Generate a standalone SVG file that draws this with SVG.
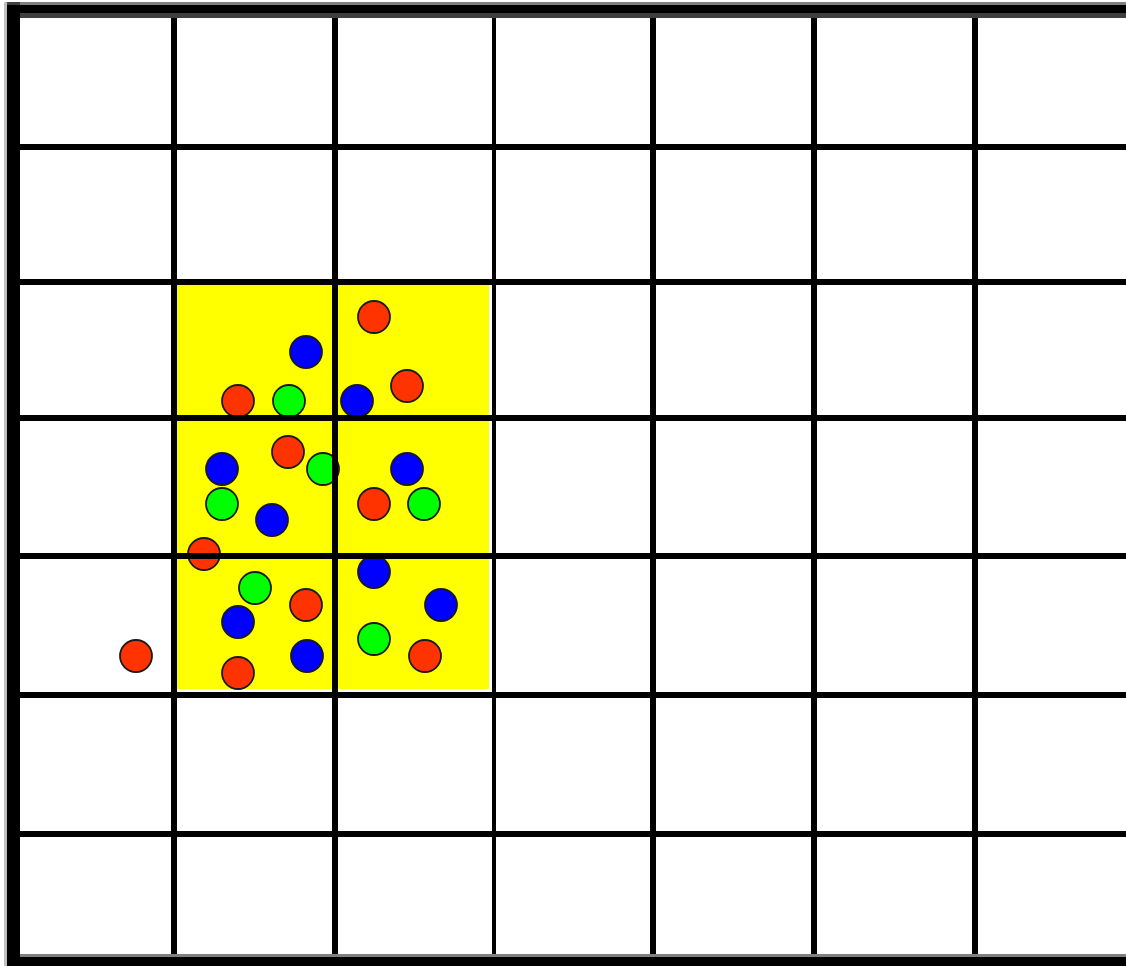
<svg xmlns="http://www.w3.org/2000/svg" width="1126" height="966" viewBox="0 0 1126 966">
  <defs>
    <style>
      .grid line { stroke: #000; stroke-width: 6; }
      .ball { stroke: #1a1a1a; stroke-width: 1.8; }
      .r { fill: #ff3300; }
      .b { fill: #0000ff; }
      .g { fill: #00ff00; }
    </style>
  </defs>
  <rect x="0" y="0" width="1126" height="966" fill="#ffffff"/>
  <g id="highlight">
    <rect x="174" y="282" width="315" height="407" fill="#ffff00"/>
  </g>
  <g id="particles">
    <circle class="ball r" cx="374" cy="317" r="16"/>
    <circle class="ball b" cx="306" cy="352" r="16"/>
    <circle class="ball r" cx="407" cy="386" r="16"/>
    <circle class="ball r" cx="238" cy="401" r="16"/>
    <circle class="ball g" cx="289" cy="401" r="16"/>
    <circle class="ball b" cx="357" cy="401" r="16"/>
    <circle class="ball r" cx="288" cy="452" r="16"/>
    <circle class="ball g" cx="323" cy="469" r="16"/>
    <circle class="ball b" cx="222" cy="469" r="16"/>
    <circle class="ball g" cx="222" cy="504" r="16"/>
    <circle class="ball b" cx="272" cy="520" r="16"/>
    <circle class="ball b" cx="407" cy="469" r="16"/>
    <circle class="ball r" cx="374" cy="504" r="16"/>
    <circle class="ball g" cx="424" cy="504" r="16"/>
    <circle class="ball r" cx="204" cy="554" r="16"/>
    <circle class="ball g" cx="255" cy="588" r="16"/>
    <circle class="ball r" cx="306" cy="605" r="16"/>
    <circle class="ball b" cx="238" cy="622" r="16"/>
    <circle class="ball r" cx="238" cy="673" r="16"/>
    <circle class="ball b" cx="307" cy="656" r="16"/>
    <circle class="ball r" cx="136" cy="656" r="16"/>
    <circle class="ball b" cx="374" cy="572" r="16"/>
    <circle class="ball b" cx="441" cy="605" r="16"/>
    <circle class="ball g" cx="374" cy="639" r="16"/>
    <circle class="ball r" cx="425" cy="656" r="16"/>
  </g>
  <g id="grid" class="grid">
    <line x1="174" y1="10" x2="174" y2="960"/>
    <line x1="335" y1="10" x2="335" y2="960"/>
    <line x1="494" y1="10" x2="494" y2="960" style="stroke-width:4"/>
    <line x1="653" y1="10" x2="653" y2="960"/>
    <line x1="814" y1="10" x2="814" y2="960"/>
    <line x1="975" y1="10" x2="975" y2="960"/>
    <line x1="10" y1="147" x2="1126" y2="147"/>
    <line x1="10" y1="282" x2="1126" y2="282"/>
    <line x1="10" y1="418" x2="1126" y2="418"/>
    <line x1="10" y1="556" x2="1126" y2="556"/>
    <line x1="10" y1="695" x2="1126" y2="695"/>
    <line x1="10" y1="834" x2="1126" y2="834"/>
  </g>
  <g id="frame">
    <rect x="4" y="2" width="3" height="964" fill="#c0c0c0"/>
    <rect x="7" y="2" width="1119" height="3" fill="#808080"/>
    <rect x="7" y="2" width="13" height="3" fill="#404040"/>
    <rect x="7" y="5" width="1119" height="8" fill="#000000"/>
    <rect x="20" y="13" width="1106" height="5" fill="#404040"/>
    <rect x="20" y="954" width="1106" height="3" fill="#808080"/>
    <rect x="7" y="957" width="1119" height="9" fill="#000000"/>
    <rect x="7" y="5" width="13" height="961" fill="#000000"/>
  </g>
</svg>
